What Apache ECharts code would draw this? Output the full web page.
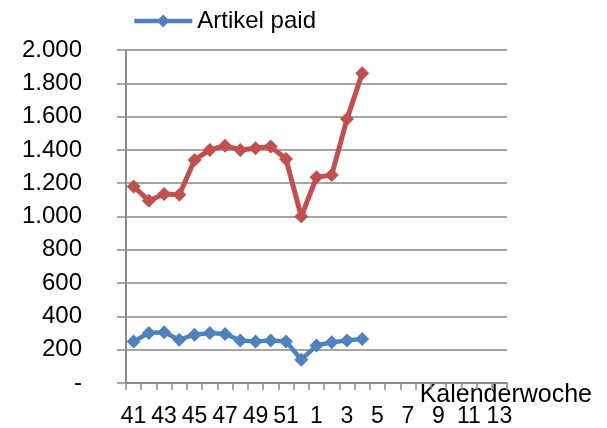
<!DOCTYPE html>
<html>
<head>
<meta charset="utf-8">
<script src="https://cdn.jsdelivr.net/npm/echarts@6/dist/echarts.min.js"></script>
<style>
  html, body { margin: 0; padding: 0; background: #fff; }
  #chart { width: 607px; height: 428px; }
</style>
</head>
<body>
<div id="chart"></div>
<script>
// Kalenderwochen (41..52, dann 1..13)
const weeks = ['41', '42', '43', '44', '45', '46', '47', '48', '49', '50', '51', '52',
  '1', '2', '3', '4', '5', '6', '7', '8', '9', '10', '11', '12', '13'];

// Artikel paid (blau)
const paidValues = [250, 300, 305, 260, 290, 300, 295, 255, 250, 255, 250, 140, 225, 245, 255, 265];

// zweite Reihe (rot), ohne Legendeneintrag
const otherValues = [1180, 1095, 1135, 1130, 1340, 1400, 1425, 1400, 1410, 1420, 1345, 1000, 1235, 1250, 1585, 1860];

const yTicks = { min: 0, max: 2000, step: 200 };

function initChart() {
  const container = document.getElementById('chart');
  const myChart = echarts.init(container);

  const font = '"Liberation Sans", Arial, sans-serif';
  const gray = '#8c8c8c';

  const option = {
    animation: false,
    backgroundColor: '#fff',
    legend: {
      data: ['Artikel paid'],
      left: 127,
      top: 4,
      itemWidth: 58,
      itemHeight: 16,
      itemGap: 10,
      lineStyle: { width: 4.5 },
      textStyle: {
        fontFamily: font,
        fontSize: 24,
        color: '#000'
      }
    },
    grid: {
      left: 126,
      right: 100,
      top: 50,
      bottom: 45,
      containLabel: false,
      outerBoundsMode: 'none'
    },
    xAxis: {
      type: 'category',
      data: weeks,
      boundaryGap: true,
      name: 'Kalenderwoche',
      nameLocation: 'end',
      nameGap: 85,
      nameMoveOverlap: false,
      nameTextStyle: {
        fontFamily: font,
        fontSize: 25,
        lineHeight: 24,
        color: '#000',
        align: 'right',
        verticalAlign: 'top'
      },
      axisLine: {
        lineStyle: { color: gray, width: 2 }
      },
      axisTick: {
        show: true,
        interval: 0,
        length: 7,
        lineStyle: { color: gray, width: 1.5 }
      },
      axisLabel: {
        interval: 1,
        margin: 22,
        fontFamily: font,
        fontSize: 23,
        color: '#000'
      },
      splitLine: { show: false }
    },
    yAxis: {
      type: 'value',
      min: yTicks.min,
      max: yTicks.max,
      interval: yTicks.step,
      axisLine: {
        show: true,
        lineStyle: { color: gray, width: 2 }
      },
      axisTick: {
        show: true,
        length: 9,
        lineStyle: { color: gray, width: 1.5 }
      },
      axisLabel: {
        margin: 44,
        fontFamily: font,
        fontSize: 24,
        color: '#000',
        formatter: function (v) {
          if (v === 0) return '-';
          return String(v).replace(/\B(?=(\d{3})+(?!\d))/g, '.');
        }
      },
      splitLine: {
        lineStyle: { color: '#a6a6a6', width: 2 }
      }
    },
    series: [
      {
        name: 'Artikel paid',
        type: 'line',
        data: paidValues,
        symbol: 'diamond',
        symbolSize: 14,
        showAllSymbol: true,
        lineStyle: { color: '#4f81bd', width: 4.5 },
        itemStyle: { color: '#4f81bd' }
      },
      {
        name: 'Artikel gesamt',
        type: 'line',
        data: otherValues,
        symbol: 'diamond',
        symbolSize: 14,
        showAllSymbol: true,
        lineStyle: { color: '#c0504d', width: 5 },
        itemStyle: { color: '#c0504d' }
      }
    ]
  };

  myChart.setOption(option);
}

initChart();
</script>
</body>
</html>
